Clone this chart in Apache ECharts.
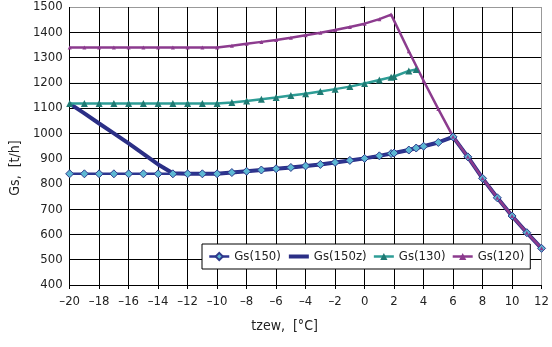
<!DOCTYPE html>
<html lang="pl">
<head>
<meta charset="UTF-8">
<title>Gs</title>
<script src="https://cdn.jsdelivr.net/npm/echarts@6/dist/echarts.min.js"></script>
<style>
  html, body { margin: 0; padding: 0; background: #fff; }
  #main { width: 552px; height: 347px; }
</style>
</head>
<body>
<div id="main"></div>
<script type="text/javascript">
// temperatury zewnetrzne [°C] dla kazdej serii
var tGs150 = [-20,-19,-18,-17,-16,-15,-14,-13,-12,-11,-10,-9,-8,-7,-6,-5,-4,-3,-2,-1,0,1,1.8,2,3,3.5,4,5,6,7,8,9,10,11,12];
var gs150  = [840,840,840,840,840,840,840,840,840,840,840,845,850,855,860,865,871,877,885,893,901,911,920,922,934,942,949,964,986,907,822,745,673,607,545];

var tGs150z = [-20,-19,-18,-17,-16,-15,-14,-13,-12,-11,-10,-9,-8,-7,-6,-5,-4,-3,-2,-1,0,1,1.8,2,3,3.5,4,5,6,7,8,9,10,11,12];
var gs150z  = [1118,1079,1039,1000,960,919,877,842,840,840,840,845,850,855,860,865,871,877,885,893,901,911,920,922,934,942,949,964,986,907,822,745,673,607,545];

var tGs130 = [-20,-19,-18,-17,-16,-15,-14,-13,-12,-11,-10,-9,-8,-7,-6,-5,-4,-3,-2,-1,0,1,1.8,2,3,3.5];
var gs130  = [1118,1118,1118,1118,1118,1118,1118,1118,1118,1118,1118,1122,1128,1135,1142,1150,1157,1166,1175,1185,1197,1211,1222,1225,1247,1253];

var tGs120 = [-20,-19,-18,-17,-16,-15,-14,-13,-12,-11,-10,-9,-8,-7,-6,-5,-4,-3,-2,-1,0,1,1.8,3,4,5,6,7,8,9,10,11,12];
var gs120  = [1340,1340,1340,1340,1340,1340,1340,1340,1340,1340,1340,1347,1355,1362,1369,1378,1388,1398,1409,1421,1434,1452,1470,1325,1208,1096,987,907,822,745,673,607,545];

function pairs(xs, ys) {
    var out = [];
    for (var i = 0; i < xs.length; i++) out.push([xs[i], ys[i]]);
    return out;
}

var font = "'DejaVu Sans Condensed', 'Liberation Sans Narrow', sans-serif";

// kolory linii siatki: ostatnia (gorna / prawa) szara jak ramka wykresu
var xGridColors = [], yGridColors = [];
for (var i = 0; i < 16; i++) xGridColors.push('#000');
xGridColors.push('#999');
for (var j = 0; j < 11; j++) yGridColors.push('#000');
yGridColors.push('#999');

var myChart = echarts.init(document.getElementById('main'));
myChart.setOption({
    animation: false,
    backgroundColor: '#fff',
    grid: { left: 69, right: 9, top: 7, bottom: 62 },
    legend: {
        data: [
            { name: 'Gs(150)', lineStyle: { width: 2.5 } },
            { name: 'Gs(150z)', itemStyle: { opacity: 0 }, lineStyle: { width: 4 } },
            { name: 'Gs(130)', lineStyle: { width: 2.5 } },
            { name: 'Gs(120)', lineStyle: { width: 2.5 } }
        ],
        left: 202,
        top: 244,
        width: 340,
        padding: [6, 6, 6, 6],
        itemGap: 6,
        itemWidth: 20,
        itemHeight: 9,
        backgroundColor: '#fff',
        borderColor: '#000',
        borderWidth: 1,
        textStyle: { fontFamily: font, fontSize: 13, color: '#222' }
    },
    xAxis: {
        type: 'value',
        min: -20,
        max: 12,
        interval: 2,
        name: 'tzew,  [°C]',
        nameLocation: 'middle',
        nameGap: 34,
        nameTextStyle: { fontFamily: font, fontSize: 14, color: '#222', padding: [0, 42, 0, 0] },
        axisLine: { show: true, onZero: false, lineStyle: { color: '#000', width: 1 } },
        axisTick: { show: true, length: 4, lineStyle: { color: '#000' } },
        axisLabel: {
            fontFamily: font, fontSize: 13, color: '#222', margin: 10,
            formatter: function (v) { return v < 0 ? '\u2013' + Math.abs(v) : String(v); }
        },
        splitLine: { show: true, lineStyle: { color: xGridColors, width: 1 } }
    },
    yAxis: {
        type: 'value',
        min: 400,
        max: 1500,
        interval: 100,
        name: 'Gs,  [t/h]',
        nameLocation: 'middle',
        nameGap: 46,
        nameTextStyle: { fontFamily: font, fontSize: 14, color: '#222', padding: [0, 44, 0, 0] },
        axisLine: { show: true, lineStyle: { color: '#000', width: 1 } },
        axisTick: { show: true, length: 4, lineStyle: { color: '#000' } },
        axisLabel: {
            fontFamily: font, fontSize: 13, color: '#222', margin: 7,
            formatter: function (v) { return String(v); }
        },
        splitLine: { show: true, lineStyle: { color: yGridColors, width: 1 } }
    },
    series: [
        {
            name: 'Gs(150z)',
            type: 'line',
            data: pairs(tGs150z, gs150z),
            symbol: 'none',
            lineStyle: { color: '#2B2F86', width: 4 },
            itemStyle: { color: '#2B2F86' }
        },
        {
            name: 'Gs(150)',
            type: 'line',
            data: pairs(tGs150, gs150),
            symbol: 'diamond',
            symbolSize: 8,
            lineStyle: { color: '#2E3590', width: 2.5 },
            itemStyle: { color: '#5DB8D3', borderColor: '#2E3A8C', borderWidth: 1 }
        },
        {
            name: 'Gs(130)',
            type: 'line',
            data: pairs(tGs130, gs130),
            symbol: 'triangle',
            symbolSize: 7,
            lineStyle: { color: '#2E9D96', width: 2.5 },
            itemStyle: { color: '#1F7A73', borderWidth: 0 }
        },
        {
            name: 'Gs(120)',
            type: 'line',
            data: pairs(tGs120, gs120),
            symbol: 'triangle',
            symbolSize: 4,
            lineStyle: { color: '#8C3B8E', width: 2.5 },
            itemStyle: { color: '#8C3B8E' }
        }
    ]
});
</script>
</body>
</html>
